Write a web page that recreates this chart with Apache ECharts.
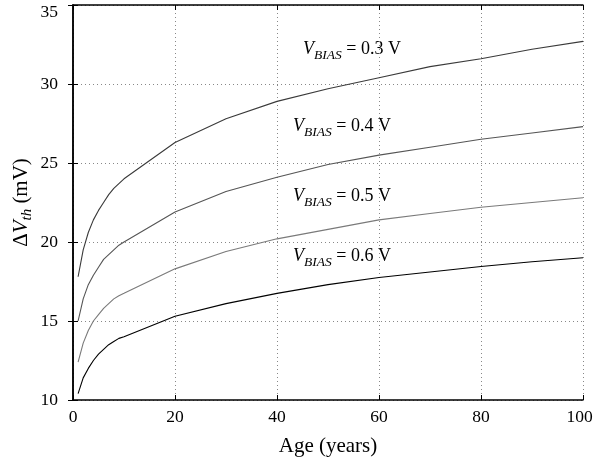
<!DOCTYPE html>
<html>
<head>
<meta charset="utf-8">
<script src="https://cdn.jsdelivr.net/npm/echarts@6/dist/echarts.min.js"></script>
<style>
  html, body { margin: 0; padding: 0; background: #fff; }
  #chart { width: 593px; height: 460px; }
</style>
</head>
<body>
<div id="chart"></div>
<script>
// ages (years) where the curves are sampled
const ages = [1, 2, 3, 4, 5, 6, 7, 8, 9, 10, 20, 30, 40, 50, 60, 70, 80, 90, 100];

// delta Vth (mV)
const vbias03 = [17.8, 19.5, 20.6, 21.4, 22.0, 22.5, 23.0, 23.4, 23.7, 24.0, 26.3, 27.8, 28.9, 29.7, 30.4, 31.1, 31.6, 32.2, 32.7];
const vbias04 = [15.0, 16.4, 17.3, 17.9, 18.4, 18.9, 19.2, 19.5, 19.8, 20.0, 21.9, 23.2, 24.1, 24.9, 25.5, 26.0, 26.5, 26.9, 27.3];
const vbias05 = [12.4, 13.6, 14.4, 15.0, 15.4, 15.8, 16.1, 16.4, 16.6, 16.75, 18.3, 19.4, 20.2, 20.8, 21.4, 21.8, 22.2, 22.5, 22.8];
const vbias06 = [10.4, 11.4, 12.0, 12.5, 12.9, 13.2, 13.5, 13.7, 13.9, 14.0, 15.3, 16.1, 16.75, 17.3, 17.75, 18.1, 18.45, 18.75, 19.0];

const biasNames = ['0.3', '0.4', '0.5', '0.6'];

const serif = 'Liberation Serif';

const chart = echarts.init(document.getElementById('chart'));

function pairs(vals) {
  return ages.map((a, i) => [a, vals[i]]);
}

function lineSeries(name, vals, color) {
  return {
    name: name,
    type: 'line',
    data: pairs(vals),
    showSymbol: false,
    smooth: false,
    lineStyle: { color: color, width: 1.1 },
    silent: true
  };
}

// V_BIAS label, left x / middle y in pixels
function biasLabel(txt, x, y) {
  return {
    type: 'text',
    left: x,
    top: y - 13,
    style: {
      text: '{v|V}{s|BIAS}{n| = ' + txt + ' V}',
      rich: {
        v: { fontFamily: serif, fontSize: 18, fontStyle: 'italic', lineHeight: 26, fill: '#000' },
        s: { fontFamily: serif, fontSize: 13.5, fontStyle: 'italic', lineHeight: 15, verticalAlign: 'bottom', fill: '#000' },
        n: { fontFamily: serif, fontSize: 18, lineHeight: 26, fill: '#000' }
      }
    }
  };
}

const gridLine = { show: true, lineStyle: { color: '#888', type: [1, 3], width: 1 } };
const tickFont = { fontFamily: serif, fontSize: 17.5, color: '#000' };

const option = {
  animation: false,
  backgroundColor: '#fff',
  grid: { left: 73, right: 10, top: 5, bottom: 60, outerBoundsMode: 'none' },
  xAxis: [
    {
      type: 'value',
      min: 0, max: 100, interval: 20,
      name: 'Age (years)',
      nameLocation: 'middle',
      nameGap: 36,
      nameMoveOverlap: false,
      nameTextStyle: { fontFamily: serif, fontSize: 21, color: '#000' },
      axisLine: { show: true, lineStyle: { color: '#000', width: 1.5 } },
      axisTick: { show: true, inside: true, length: 5, lineStyle: { color: '#000' } },
      axisLabel: {
        ...tickFont,
        margin: 8,
        // last label is pushed left a little so it stays inside the page
        formatter: v => (v === 100 ? '{r|100}' : String(v)),
        rich: { r: { ...tickFont, padding: [0, 7, 0, 0] } }
      },
      splitLine: gridLine
    },
    {
      type: 'value',
      position: 'top',
      min: 0, max: 100, interval: 20,
      axisLine: { show: true, lineStyle: { color: '#000', width: 1.5 } },
      axisTick: { show: true, inside: true, length: 5, lineStyle: { color: '#000' } },
      axisLabel: { show: false },
      splitLine: { show: false }
    }
  ],
  yAxis: [
    {
      type: 'value',
      min: 10, max: 35, interval: 5,
      name: '{a|Δ}{i|V}{s|th}{a| (mV)}',
      nameLocation: 'middle',
      nameGap: 38,
      nameMoveOverlap: false,
      nameTextStyle: {
        rich: {
          a: { fontFamily: serif, fontSize: 21, lineHeight: 28, color: '#000' },
          i: { fontFamily: serif, fontSize: 21, fontStyle: 'italic', lineHeight: 28, color: '#000' },
          s: { fontFamily: serif, fontSize: 15, fontStyle: 'italic', lineHeight: 16, verticalAlign: 'bottom', color: '#000' }
        }
      },
      axisLine: { show: true, lineStyle: { color: '#000', width: 1.5 } },
      axisTick: { show: true, inside: true, length: 5, lineStyle: { color: '#000' } },
      axisLabel: {
        ...tickFont,
        margin: 15,
        // top label sits a bit lower so it is not cut at the page edge
        formatter: v => (v === 35 ? '{t|35}' : String(v)),
        rich: { t: { ...tickFont, padding: [14, 0, 0, 0] } }
      },
      splitLine: gridLine
    },
    {
      type: 'value',
      position: 'right',
      min: 10, max: 35, interval: 5,
      axisLine: { show: true, lineStyle: { color: '#000', width: 1.5 } },
      axisTick: { show: true, inside: true, length: 5, lineStyle: { color: '#000' } },
      axisLabel: { show: false },
      splitLine: { show: false }
    }
  ],
  series: [
    lineSeries('0.3', vbias03, '#3a3a3a'),
    lineSeries('0.4', vbias04, '#555555'),
    lineSeries('0.5', vbias05, '#7a7a7a'),
    lineSeries('0.6', vbias06, '#000000')
  ],
  graphic: [
    biasLabel(biasNames[0], 303, 53),
    biasLabel(biasNames[1], 293, 130),
    biasLabel(biasNames[2], 293, 200),
    biasLabel(biasNames[3], 293, 260)
  ]
};

chart.setOption(option);
</script>
</body>
</html>
